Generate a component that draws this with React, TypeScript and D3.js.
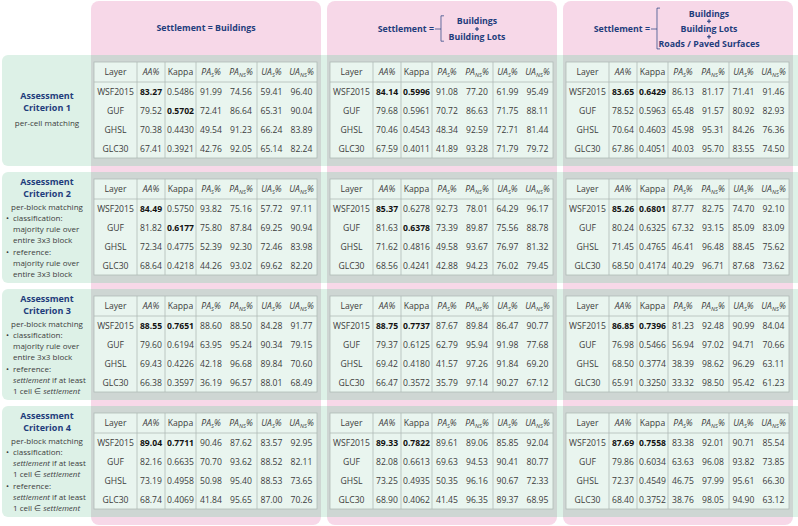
import React from "react";
import * as d3 from "d3";

// ---------- data ----------
const settlementTitles: string[][] = [
  ["Buildings"],
  ["Buildings", "Building Lots"],
  ["Buildings", "Building Lots", "Roads / Paved Surfaces"],
];
const criterionNames = ["Criterion 1", "Criterion 2", "Criterion 3", "Criterion 4"];
const matchingTypes = ["per-cell matching", "per-block matching", "per-block matching", "per-block matching"];
const classificationRules: (string[] | null)[] = [
  null,
  ["majority rule over", "entire 3x3 block"],
  ["majority rule over", "entire 3x3 block"],
  ["*settlement* if at least", "1 cell ∈ *settlement*"],
];
const referenceRules: (string[] | null)[] = [
  null,
  ["majority rule over", "entire 3x3 block"],
  ["*settlement* if at least", "1 cell ∈ *settlement*"],
  ["*settlement* if at least", "1 cell ∈ *settlement*"],
];
const layers = ["WSF2015", "GUF", "GHSL", "GLC30"];
const metricHeads = [
  { base: "AA", sub: "", italic: true },
  { base: "Kappa", sub: "", italic: false },
  { base: "PA", sub: "S", italic: true },
  { base: "PA", sub: "NS", italic: true },
  { base: "UA", sub: "S", italic: true },
  { base: "UA", sub: "NS", italic: true },
];

// values: rows = layers, cols = AA, Kappa, PA_S, PA_NS, UA_S, UA_NS
const c1s1 = [
  [83.27, 0.5486, 91.99, 74.56, 59.41, 96.40],
  [79.52, 0.5702, 72.41, 86.64, 65.31, 90.04],
  [70.38, 0.4430, 49.54, 91.23, 66.24, 83.89],
  [67.41, 0.3921, 42.76, 92.05, 65.14, 82.24],
];
const c1s2 = [
  [84.14, 0.5996, 91.08, 77.20, 61.99, 95.49],
  [79.68, 0.5961, 70.72, 86.63, 71.75, 88.11],
  [70.46, 0.4543, 48.34, 92.59, 72.71, 81.44],
  [67.59, 0.4011, 41.89, 93.28, 71.79, 79.72],
];
const c1s3 = [
  [83.65, 0.6429, 86.13, 81.17, 71.41, 91.46],
  [78.52, 0.5963, 65.48, 91.57, 80.92, 82.93],
  [70.64, 0.4603, 45.98, 95.31, 84.26, 76.36],
  [67.86, 0.4051, 40.03, 95.70, 83.55, 74.50],
];
const c2s1 = [
  [84.49, 0.5750, 93.82, 75.16, 57.72, 97.11],
  [81.82, 0.6177, 75.80, 87.84, 69.25, 90.94],
  [72.34, 0.4775, 52.39, 92.30, 72.46, 83.98],
  [68.64, 0.4218, 44.26, 93.02, 69.62, 82.20],
];
const c2s2 = [
  [85.37, 0.6278, 92.73, 78.01, 64.29, 96.17],
  [81.63, 0.6378, 73.39, 89.87, 75.56, 88.78],
  [71.62, 0.4816, 49.58, 93.67, 76.97, 81.32],
  [68.56, 0.4241, 42.88, 94.23, 76.02, 79.45],
];
const c2s3 = [
  [85.26, 0.6801, 87.77, 82.75, 74.70, 92.10],
  [80.24, 0.6325, 67.32, 93.15, 85.09, 83.09],
  [71.45, 0.4765, 46.41, 96.48, 88.45, 75.62],
  [68.50, 0.4174, 40.29, 96.71, 87.68, 73.62],
];
const c3s1 = [
  [88.55, 0.7651, 88.60, 88.50, 84.28, 91.77],
  [79.60, 0.6194, 63.95, 95.24, 90.34, 79.15],
  [69.43, 0.4226, 42.18, 96.68, 89.84, 70.60],
  [66.38, 0.3597, 36.19, 96.57, 88.01, 68.49],
];
const c3s2 = [
  [88.75, 0.7737, 87.67, 89.84, 86.47, 90.77],
  [79.37, 0.6125, 62.79, 95.94, 91.98, 77.68],
  [69.42, 0.4180, 41.57, 97.26, 91.84, 69.20],
  [66.47, 0.3572, 35.79, 97.14, 90.27, 67.12],
];
const c3s3 = [
  [86.85, 0.7396, 81.23, 92.48, 90.99, 84.04],
  [76.98, 0.5466, 56.94, 97.02, 94.71, 70.66],
  [68.50, 0.3774, 38.39, 98.62, 96.29, 63.11],
  [65.91, 0.3250, 33.32, 98.50, 95.42, 61.23],
];
const c4s1 = [
  [89.04, 0.7711, 90.46, 87.62, 83.57, 92.95],
  [82.16, 0.6635, 70.70, 93.62, 88.52, 82.11],
  [73.19, 0.4958, 50.98, 95.40, 88.53, 73.65],
  [68.74, 0.4069, 41.84, 95.65, 87.00, 70.26],
];
const c4s2 = [
  [89.33, 0.7822, 89.61, 89.06, 85.85, 92.04],
  [82.08, 0.6613, 69.63, 94.53, 90.41, 80.77],
  [73.25, 0.4935, 50.35, 96.16, 90.67, 72.33],
  [68.90, 0.4062, 41.45, 96.35, 89.37, 68.95],
];
const c4s3 = [
  [87.69, 0.7558, 83.38, 92.01, 90.71, 85.54],
  [79.86, 0.6034, 63.63, 96.08, 93.82, 73.85],
  [72.37, 0.4549, 46.75, 97.99, 95.61, 66.30],
  [68.40, 0.3752, 38.76, 98.05, 94.90, 63.12],
];

// ---------- style ----------
const FONT = "'Open Sans', 'Noto Sans', sans-serif";
const PINK = "#f7d8e8";
const GREEN = "#ddf1e7";
const GRAY = "#ced6d3";
const CELL = "#e9f5ef";
const RULE = "#b0bbb7";
const BLUE = "#1f3d7c";
const TXT = "#3c3c3c";

function RichLine({ s, ...rest }: any) {
  const parts = s.split("*");
  return (
    <text {...rest}>
      {parts.map((p: string, k: number) => (
        <tspan key={k} fontStyle={k % 2 === 1 ? "italic" : "normal"}>{p}</tspan>
      ))}
    </text>
  );
}

export default function App() {
  const W = 798, H = 526;
  const tables = [
    [c1s1, c1s2, c1s3],
    [c2s1, c2s2, c2s3],
    [c3s1, c3s2, c3s3],
    [c4s1, c4s2, c4s3],
  ];
  const colIdx = settlementTitles.map((_, i) => i);
  const rowIdx = criterionNames.map((_, i) => i);
  const x = d3.scaleBand<number>().domain(colIdx).range([91, 793]).paddingInner(0.0254);
  const y = d3.scaleBand<number>().domain(rowIdx).range([55, 517]).paddingInner(0.0513);
  const bw = x.bandwidth();
  const bh = y.bandwidth();

  const tableW = 223, headH = 20, tableH = 96;
  const rowY = d3.scaleBand<string>().domain(layers).range([headH, tableH]);
  const colBounds = [43, 71, 102, 163];
  const colCenters = [21.5, 57, 86.5, 117, 147, 177.5, 207.5];
  const f2 = d3.format(".2f");
  const f4 = d3.format(".4f");

  return (
    <div style={{ position: "absolute", left: 0, top: 0 }}>
      <svg width={W} height={H} style={{ display: "block", background: "#fff" }} fontFamily={FONT}>
        {/* pink columns */}
        {colIdx.map((i) => (
          <rect key={"p" + i} x={x(i)} y={1} width={bw} height={524} rx={8} fill={PINK} />
        ))}
        {/* green rows */}
        {rowIdx.map((j) => (
          <rect key={"g" + j} x={2} y={y(j)} width={810} height={bh} rx={6} fill={GREEN} />
        ))}
        {/* overlaps */}
        {rowIdx.map((j) =>
          colIdx.map((i) => (
            <rect key={"o" + j + i} x={x(i)} y={y(j)} width={bw} height={bh} fill={GRAY} />
          ))
        )}

        {/* column headers */}
        {colIdx.map((i) => {
          const cx = x(i)! + bw / 2;
          const lines = settlementTitles[i];
          if (lines.length === 1) {
            return (
              <text key={"h" + i} x={cx} y={31} textAnchor="middle" fontSize={8.8} fontWeight="bold" fill={BLUE}>
                Settlement = {lines[0]}
              </text>
            );
          }
          const n = lines.length * 2 - 1;
          const step = 7.7;
          const midY = 29;
          const top = midY - ((n - 1) * step) / 2;
          const stackCx = lines.length === 2 ? x(i)! + 150 : x(i)! + 146;
          const brX = lines.length === 2 ? x(i)! + 114 : x(i)! + 94;
          const brTop = top - 5.5;
          const brBot = top + (n - 1) * step + 4.5;
          return (
            <g key={"h" + i} fill={BLUE}>
              <text x={brX - 7} y={midY + 3} textAnchor="end" fontSize={8.8} fontWeight="bold">
                Settlement =
              </text>
              <path
                d={`M${brX - 6},${midY} H${brX} M${brX + 3},${brTop} H${brX} V${brBot} H${brX + 3}`}
                stroke={BLUE}
                strokeWidth={0.7}
                fill="none"
              />
              {lines.map((l, k) => (
                <text key={k} x={stackCx} y={top + 2 * k * step + 3} textAnchor="middle" fontSize={8.8} fontWeight="bold">
                  {l}
                </text>
              ))}
              {lines.slice(1).map((_, k) => {
                const py = top + (2 * k + 1) * step;
                return (
                  <path
                    key={"plus" + k}
                    d={`M${stackCx - 2},${py} H${stackCx + 2} M${stackCx},${py - 2} V${py + 2}`}
                    stroke={BLUE}
                    strokeWidth={1.1}
                    fill="none"
                  />
                );
              })}
            </g>
          );
        })}

        {/* row labels */}
        {rowIdx.map((j) => {
          const ty = y(j)!;
          const cx = 47;
          if (!classificationRules[j]) {
            return (
              <g key={"rl" + j}>
                <text x={cx} y={ty + 44} textAnchor="middle" fontSize={9} fontWeight="bold" fill={BLUE}>Assessment</text>
                <text x={cx} y={ty + 56} textAnchor="middle" fontSize={9} fontWeight="bold" fill={BLUE}>{criterionNames[j]}</text>
                <text x={cx} y={ty + 71} textAnchor="middle" fontSize={8} fill={TXT}>{matchingTypes[j]}</text>
              </g>
            );
          }
          const blocks = [
            { head: "classification:", lines: classificationRules[j]!, y0: 49 },
            { head: "reference:", lines: referenceRules[j]!, y0: 83 },
          ];
          return (
            <g key={"rl" + j}>
              <text x={cx} y={ty + 13} textAnchor="middle" fontSize={9} fontWeight="bold" fill={BLUE}>Assessment</text>
              <text x={cx} y={ty + 25} textAnchor="middle" fontSize={9} fontWeight="bold" fill={BLUE}>{criterionNames[j]}</text>
              <text x={cx} y={ty + 38} textAnchor="middle" fontSize={8} fill={TXT}>{matchingTypes[j]}</text>
              {blocks.map((b, bi) => (
                <g key={bi} fontSize={8} fill={TXT}>
                  <text x={6} y={ty + b.y0}>•</text>
                  <text x={13} y={ty + b.y0}>{b.head}</text>
                  {b.lines.map((l, li) => (
                    <RichLine key={li} s={l} x={13} y={ty + b.y0 + 11 * (li + 1)} />
                  ))}
                </g>
              ))}
            </g>
          );
        })}

        {/* tables */}
        {rowIdx.map((j) =>
          colIdx.map((i) => {
            const tx = x(i)! + 3;
            const ty = y(j)! + 7;
            const data = tables[j][i];
            const maxAA = d3.max(data, (r) => r[0]);
            const maxK = d3.max(data, (r) => r[1]);
            return (
              <g key={"t" + j + i} transform={`translate(${tx},${ty})`}>
                <rect x={0} y={0} width={tableW} height={tableH} fill={CELL} stroke={RULE} strokeWidth={0.8} />
                <line x1={0} x2={tableW} y1={headH} y2={headH} stroke={RULE} strokeWidth={0.8} />
                {colBounds.map((b) => (
                  <line key={b} x1={b} x2={b} y1={0} y2={tableH} stroke={RULE} strokeWidth={0.8} />
                ))}
                <g fontSize={8.6} fill={TXT} textAnchor="middle">
                  <text x={colCenters[0]} y={headH / 2 + 3}>Layer</text>
                  {metricHeads.map((m, k) => (
                    <text key={k} x={colCenters[k + 1]} y={headH / 2 + 3} fontStyle={m.italic ? "italic" : "normal"}>
                      <tspan>{m.base}</tspan>
                      {m.sub ? <tspan fontSize={5.8} dy={2}>{m.sub}</tspan> : null}
                      {m.italic ? <tspan dy={m.sub ? -2 : 0}>%</tspan> : null}
                    </text>
                  ))}
                  {layers.map((l, r) => {
                    const cy = rowY(l)! + rowY.bandwidth() / 2 + 3;
                    return (
                      <g key={l}>
                        <text x={colCenters[0]} y={cy}>{l}</text>
                        {data[r].map((v, k) => {
                          const bold = (k === 0 && v === maxAA) || (k === 1 && v === maxK);
                          return (
                            <text key={k} x={colCenters[k + 1]} y={cy} fontWeight={bold ? "bold" : "normal"} fill={bold ? "#111" : TXT}>
                              {k === 1 ? f4(v) : f2(v)}
                            </text>
                          );
                        })}
                      </g>
                    );
                  })}
                </g>
              </g>
            );
          })
        )}
      </svg>
    </div>
  );
}
